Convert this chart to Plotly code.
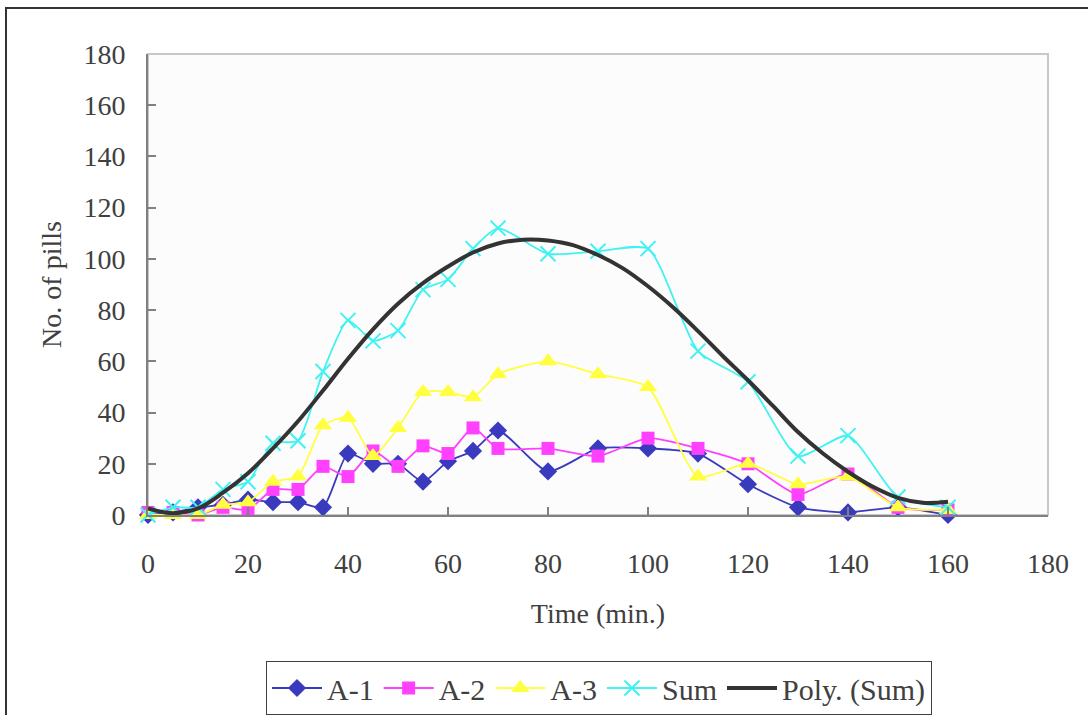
import plotly.graph_objects as go

# ---- data ----
time = [0, 5, 10, 15, 20, 25, 30, 35, 40, 45, 50, 55, 60, 65, 70, 80, 90, 100, 110, 120, 130, 140, 150, 160]
a1 = [0, 1, 3, 4, 6, 5, 5, 3, 24, 20, 20, 13, 21, 25, 33, 17, 26, 26, 24, 12, 3, 1, 3, 0]
a2 = [1, 1, 0, 3, 2, 10, 10, 19, 15, 25, 19, 27, 24, 34, 26, 26, 23, 30, 26, 20, 8, 16, 3, 2]
a3 = [0, 0, 0, 4, 5, 13, 15, 35, 38, 23, 34, 48, 48, 46, 55, 60, 55, 50, 15, 20, 12, 15, 3, 2]
total = [0, 3, 3, 10, 13, 28, 29, 56, 76, 68, 72, 88, 92, 104, 112, 102, 103, 104, 64, 52, 23, 31, 7, 3]

poly_x = [0, 5, 10, 15, 20, 25, 30, 35, 40, 45, 50, 55, 60, 65, 70, 75, 80, 85, 90, 95, 100,
          105, 110, 115, 120, 125, 130, 135, 140, 145, 150, 155, 160]
poly_y = [2.6, 0.7, 2.6, 8.7, 16.3, 26, 36.6, 48.6, 61, 72.5, 82.5, 90.5, 97, 102.5, 106, 107.5, 107.2,
          105.4, 101.5, 96.3, 89.3, 81.1, 71.8, 62, 52.6, 42.6, 32.4, 24, 16.9, 11, 6.7, 4.8, 5.2]

x_ticks = [0, 20, 40, 60, 80, 100, 120, 140, 160, 180]
y_ticks = [0, 20, 40, 60, 80, 100, 120, 140, 160, 180]

FONT = "Liberation Serif"
TXT = "#404040"
FS = 28

fig = go.Figure()

fig.add_trace(go.Scatter(
    x=time, y=a1, name="A-1", mode="lines+markers", cliponaxis=False,
    line=dict(color="#3A3ABE", width=1.8, shape="spline", smoothing=0.6),
    marker=dict(symbol="diamond", size=14, color="#3A3ABE")))
fig.add_trace(go.Scatter(
    x=time, y=a2, name="A-2", mode="lines+markers", cliponaxis=False,
    line=dict(color="#FF40FF", width=1.8, shape="spline", smoothing=0.6),
    marker=dict(symbol="square", size=13, color="#FF40FF")))
fig.add_trace(go.Scatter(
    x=time, y=a3, name="A-3", mode="lines+markers", cliponaxis=False,
    line=dict(color="#FFFF40", width=1.8, shape="spline", smoothing=0.6),
    marker=dict(symbol="triangle-up", size=16, color="#FFFF40")))
fig.add_trace(go.Scatter(
    x=time, y=total, name="Sum", mode="lines+markers", cliponaxis=False,
    line=dict(color="#40F2F2", width=1.8, shape="spline", smoothing=0.6),
    marker=dict(symbol="x-thin", size=15, color="#40F2F2",
                line=dict(color="#40F2F2", width=2))))
fig.add_trace(go.Scatter(
    x=poly_x, y=poly_y, name="Poly. (Sum)", mode="lines", cliponaxis=False,
    line=dict(color="#333333", width=4, shape="spline", smoothing=1.0)))

W, H = 1088, 715
L, R, T, B = 148, 40, 54, 200
pw, ph = W - L - R, H - T - B

def px_to_paper_x(px):
    return (px - L) / pw

def px_to_paper_y(py):
    return (H - B - py) / ph

fig.update_layout(
    width=W, height=H,
    margin=dict(l=L, r=R, t=T, b=B, autoexpand=False),
    paper_bgcolor="white",
    plot_bgcolor="#FCFCFC",
    font=dict(family=FONT, size=FS, color=TXT),
    showlegend=True,
    legend=dict(
        orientation="h",
        xref="container", yref="container",
        x=266 / W, xanchor="left",
        y=1 - 661 / H, yanchor="top",
        bordercolor="#404040", borderwidth=1,
        bgcolor="white",
        font=dict(family=FONT, size=30, color=TXT),
        itemwidth=50,
        tracegroupgap=0,
    ),
    xaxis=dict(
        range=[0, 180], tickvals=x_ticks, ticktext=[str(v) for v in x_ticks],
        showgrid=False, zeroline=False,
        showline=True, linecolor="#808080", linewidth=2,
        ticks="inside", ticklen=8, tickcolor="#808080", tickwidth=2,
        ticklabelstandoff=22,
        tickfont=dict(family=FONT, size=FS, color=TXT),
        title=dict(text="Time (min.)", standoff=26,
                   font=dict(family=FONT, size=FS, color=TXT)),
        automargin=False,
    ),
    yaxis=dict(
        range=[0, 180], tickvals=y_ticks, ticktext=[str(v) for v in y_ticks],
        showgrid=False, zeroline=False,
        showline=True, linecolor="#808080", linewidth=2,
        ticks="inside", ticklen=8, tickcolor="#808080", tickwidth=2,
        ticklabelstandoff=15,
        tickfont=dict(family=FONT, size=FS, color=TXT),
        title=dict(text="No. of pills", standoff=14,
                   font=dict(family=FONT, size=FS, color=TXT)),
        automargin=False,
    ),
    shapes=[
        dict(type="rect", xref="paper", yref="paper", x0=0, x1=1, y0=0, y1=1,
             line=dict(color="#C8C8C8", width=2), layer="below"),
        dict(type="rect", xref="paper", yref="paper",
             x0=px_to_paper_x(6), x1=px_to_paper_x(1095),
             y0=px_to_paper_y(725), y1=px_to_paper_y(8),
             line=dict(color="#333333", width=2), layer="below"),
    ],
)

fig.write_html("out.html")
